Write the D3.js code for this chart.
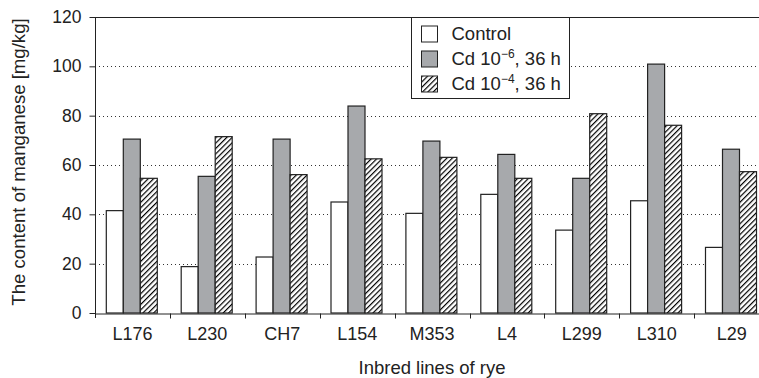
<html>
<head>
  <title>Manganese content in inbred lines of rye</title>
  <script src="https://cdn.jsdelivr.net/npm/d3@7"></script>
  <style>
    body { margin: 0; background: #fff; }
    svg { display: block; font-family: "Liberation Sans", Arial, sans-serif; }
  </style>
</head>
<body>
  <script>
    // data
    const lines = ["L176", "L230", "CH7", "L154", "M353", "L4", "L299", "L310", "L29"];
    const control = [41.5, 18.8, 22.7, 45, 40.4, 48.1, 33.6, 45.5, 26.6];
    const cd6 = [70.5, 55.4, 70.5, 83.9, 69.7, 64.3, 54.6, 100.9, 66.4];
    const cd4 = [54.6, 71.5, 56.1, 62.5, 63.1, 54.6, 80.8, 76.1, 57.3];
    const yTicks = [0, 20, 40, 60, 80, 100, 120];
    const seriesNames = ["control", "cd6", "cd4"];

    const w = 759;
    const h = 378;
    const padLeft = 95, padTop = 17, axisY = 313;
    const bandW = 74.9;
    const font = "'Liberation Sans', Arial, sans-serif";

    const svg = d3.select("body").append("svg")
      .attr("width", w).attr("height", h);

    // hatch pattern for the 10^-4 series
    const hp = 3.8;
    const pat = svg.append("defs").append("pattern")
      .attr("id", "hatch")
      .attr("patternUnits", "userSpaceOnUse")
      .attr("width", hp).attr("height", hp)
      .attr("patternTransform", "rotate(45)");
    pat.append("rect").attr("width", hp).attr("height", hp).attr("fill", "#fff");
    pat.append("line")
      .attr("x1", 0).attr("y1", 0).attr("x2", 0).attr("y2", hp)
      .attr("stroke", "#000").attr("stroke-width", 2.4);

    const fills = { control: "#fff", cd6: "#a7a9ac", cd4: "url(#hatch)" };

    const x = d3.scaleBand()
      .domain(lines)
      .range([padLeft, padLeft + bandW * lines.length])
      .paddingInner(0).paddingOuter(0);

    const y = d3.scaleLinear().domain([0, 120]).range([axisY, padTop]);

    const xSub = d3.scaleBand()
      .domain(seriesNames)
      .range([11.3, 11.3 + 51]);

    // dotted grid
    svg.append("g").selectAll("line")
      .data(yTicks.filter(d => d > 0 && d < 120))
      .enter().append("line")
      .attr("x1", padLeft).attr("x2", w)
      .attr("y1", d => Math.round(y(d)) + 0.5).attr("y2", d => Math.round(y(d)) + 0.5)
      .attr("stroke", "#333").attr("stroke-width", 1)
      .attr("stroke-dasharray", "1,3");

    // top frame line
    svg.append("line")
      .attr("x1", padLeft).attr("x2", w)
      .attr("y1", Math.round(y(120)) + 0.5).attr("y2", Math.round(y(120)) + 0.5)
      .attr("stroke", "#222");

    // bars
    const rows = lines.map((l, i) => ({ line: l, control: control[i], cd6: cd6[i], cd4: cd4[i] }));
    const groups = svg.append("g").selectAll("g")
      .data(rows)
      .enter().append("g")
      .attr("transform", d => "translate(" + x(d.line) + ",0)");

    groups.selectAll("rect")
      .data(d => seriesNames.map(k => ({ key: k, value: d[k] })))
      .enter().append("rect")
      .attr("x", d => xSub(d.key))
      .attr("y", d => y(d.value))
      .attr("width", xSub.bandwidth())
      .attr("height", d => axisY - y(d.value))
      .attr("fill", d => fills[d.key])
      .attr("stroke", "#222")
      .attr("stroke-width", 1.2);

    // y axis
    const yAxis = d3.axisLeft(y).tickValues(yTicks).tickSize(6).tickPadding(8);
    const gy = svg.append("g")
      .attr("transform", "translate(" + (padLeft + 0.5) + ",0)")
      .call(yAxis);
    gy.select(".domain").attr("d", "M0," + padTop + "V" + (axisY + 5)).attr("stroke", "#222");
    gy.selectAll(".tick line").attr("stroke", "#222");
    gy.selectAll(".tick text")
      .attr("fill", "#222").attr("font-size", 17.5)
      .attr("font-family", font);

    // x axis: ticks sit between categories
    const xAxis = d3.axisBottom(x).tickSize(0).tickPadding(14);
    const gx = svg.append("g")
      .attr("transform", "translate(0," + (axisY + 0.5) + ")")
      .call(xAxis);
    gx.select(".domain").attr("stroke", "#222");
    gx.selectAll(".tick text")
      .attr("fill", "#222").attr("font-size", 18)
      .attr("font-family", font);
    gx.selectAll(".sep")
      .data(lines.slice(1))
      .enter().append("line")
      .attr("class", "sep")
      .attr("x1", d => Math.round(x(d)) + 0.5).attr("x2", d => Math.round(x(d)) + 0.5)
      .attr("y1", 0).attr("y2", 5)
      .attr("stroke", "#222");

    // axis titles
    svg.append("text")
      .attr("transform", "translate(25," + 162 + ") rotate(-90)")
      .attr("text-anchor", "middle")
      .attr("font-size", 18.6).attr("fill", "#222")
      .text("The content of manganese [mg/kg]");

    svg.append("text")
      .attr("x", padLeft + bandW * lines.length / 2)
      .attr("y", 374)
      .attr("text-anchor", "middle")
      .attr("font-size", 18.5).attr("fill", "#222")
      .text("Inbred lines of rye");

    // legend
    const legend = svg.append("g").attr("transform", "translate(411.5,17.5)");
    legend.append("rect")
      .attr("width", 158).attr("height", 81)
      .attr("fill", "#fff").attr("stroke", "#222");
    const legendLabels = [
      ["Control", null, ""],
      ["Cd 10", "\u22126", ", 36 h"],
      ["Cd 10", "\u22124", ", 36 h"]
    ];
    const items = legend.selectAll(".item")
      .data(seriesNames)
      .enter().append("g")
      .attr("class", "item")
      .attr("transform", (d, i) => "translate(10," + (8.5 + i * 25) + ")");
    items.append("rect")
      .attr("width", 16).attr("height", 16)
      .attr("fill", d => fills[d]).attr("stroke", "#222");
    const txt = items.append("text")
      .attr("x", 30).attr("y", 14)
      .attr("font-size", 18.5).attr("fill", "#222");
    txt.each(function (d, i) {
      const t = d3.select(this);
      const lab = legendLabels[i];
      t.append("tspan").text(lab[0]);
      if (lab[1]) {
        t.append("tspan").attr("dy", -7).attr("font-size", 12).text(lab[1]);
        t.append("tspan").attr("dy", 7).text(lab[2]);
      }
    });
  </script>
</body>
</html>
